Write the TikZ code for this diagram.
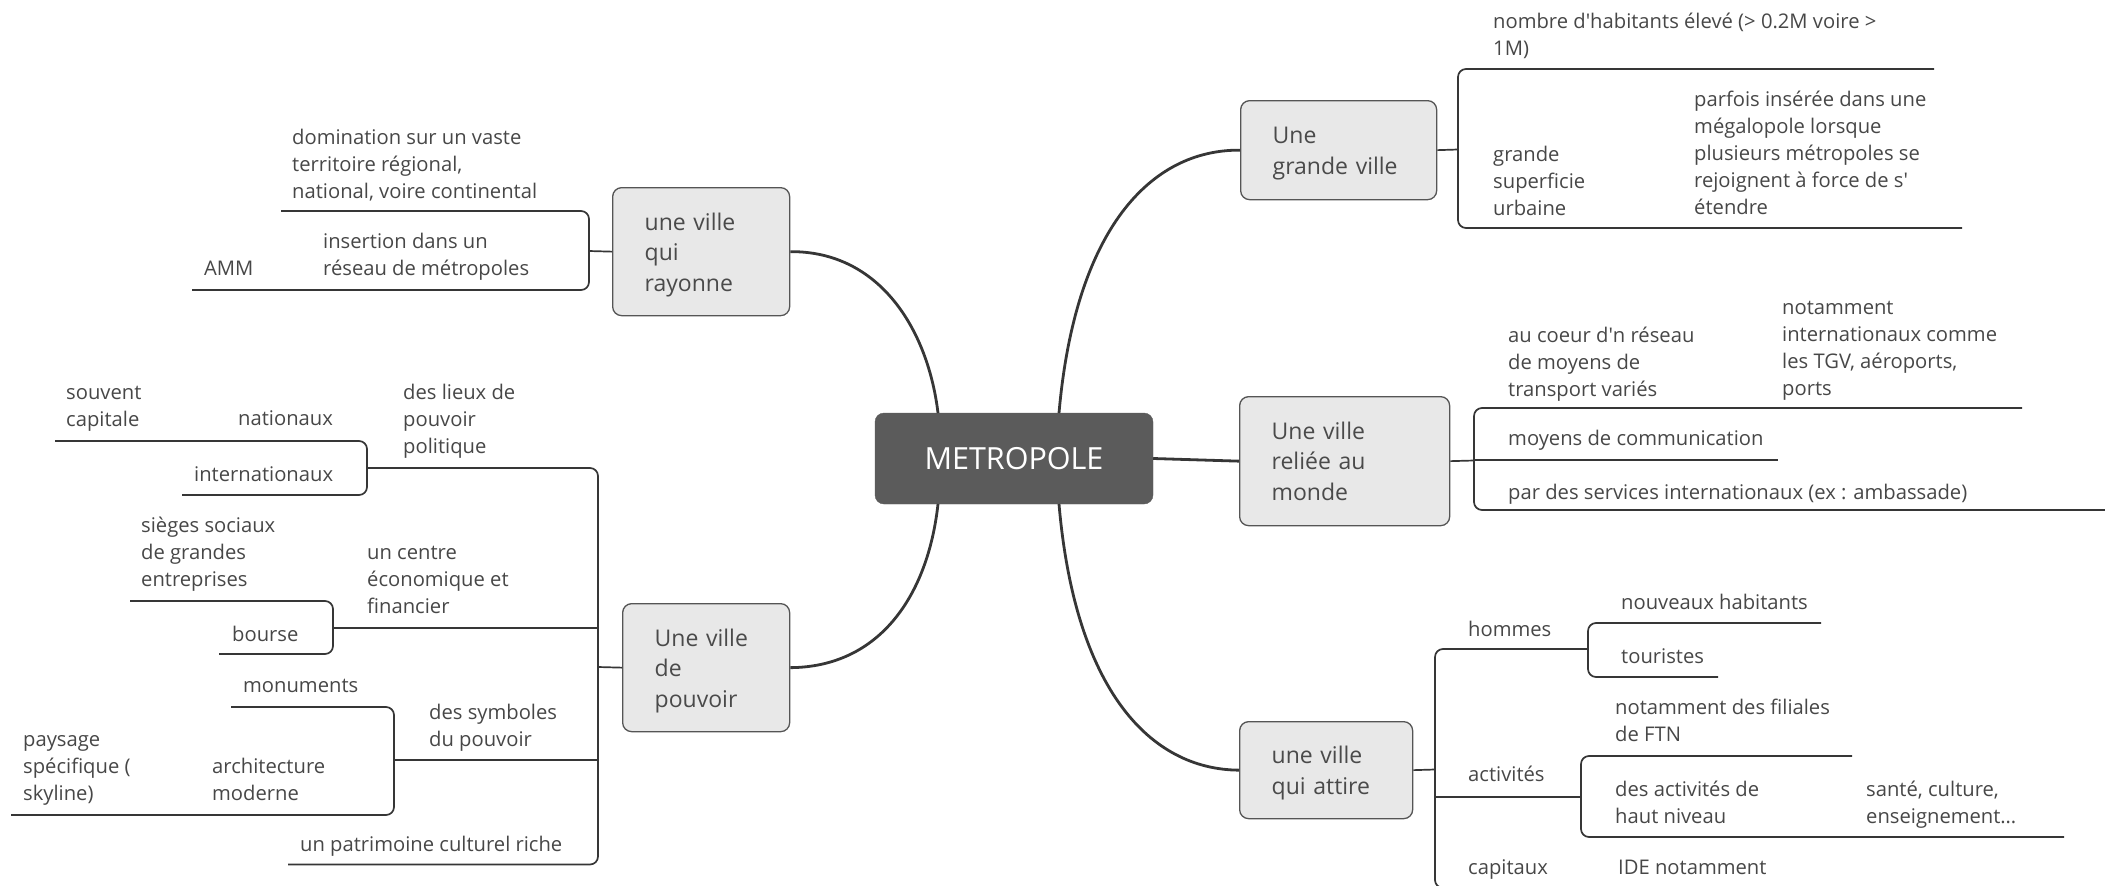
\documentclass[tikz,border=0pt]{standalone}
\usepackage{fontspec}
\setmainfont{Open Sans}
\definecolor{txt}{HTML}{474747}
\definecolor{txtb}{HTML}{4A4A4A}
\definecolor{lnc}{HTML}{363636}
\definecolor{boxf}{HTML}{E8E8E8}
\definecolor{boxd}{HTML}{555555}
\definecolor{metf}{HTML}{5B5B5B}
\newcommand{\ml}[1]{\begin{tabular}[t]{@{}l@{}}#1\end{tabular}}
\newcommand{\dn}{\rule{0pt}{23.5pt}}
\begin{document}
\begin{tikzpicture}[x=1pt,y=-1pt,
  leaf/.style={anchor=base west, inner sep=0pt, text=txt, font=\fontsize{20.2}{27}\selectfont, yshift=-1pt},
  topic/.style={draw=boxd, fill=boxf, line width=1.3pt, rounded corners=9pt, anchor=north west,
    inner xsep=32pt, inner ysep=0pt, align=left, text=txtb, font=\fontsize{23}{30.5}\selectfont},
  ln/.style={draw=lnc, line width=1.7pt, rounded corners=8pt},
  mainc/.style={draw=lnc, line width=2.8pt},
]
\useasboundingbox (0,0) rectangle (2105,886);

% central node
\node[draw=metf, fill=metf, rounded corners=9pt, minimum width=278pt, minimum height=91pt,
  text=white, font=\fontsize{30.5}{36}\selectfont, inner sep=0pt] (metro) at (1014,458.5) {METROPOLE};

% topic boxes
\node[topic, text width=113pt, minimum height=128pt] (ray) at (612,187) {\dn une ville\\qui\\rayonne};
\node[topic, text width=132pt, minimum height=99pt] (gv) at (1240,100) {\dn Une\\grande~ville};
\node[topic, text width=146pt, minimum height=129pt] (rel) at (1239,396) {Une ville\\reliée au\\monde};
\node[topic, text width=109pt, minimum height=97pt] (att) at (1239,721) {\dn une ville\\qui attire};
\node[topic, text width=103pt, minimum height=128pt] (pouv) at (622,603) {\dn Une ville\\de\\pouvoir};

% main connectors
\coordinate (mTL) at (938,413);
\coordinate (mTR) at (1059,413);
\coordinate (mBL) at (938,504);
\coordinate (mBR) at (1059,504);
\draw[mainc] (mTL) .. controls (928,330) and (880,251) .. (ray.east);
\draw[mainc] (mTR) .. controls (1075,230) and (1150,149.5) .. (gv.west);
\draw[mainc] (mBL) .. controls (928,595) and (880,667) .. (pouv.east);
\draw[mainc] (mBR) .. controls (1075,690) and (1150,769.5) .. (att.west);
\draw[mainc] (metro.east) -- (rel.west);

% ---------- une ville qui rayonne ----------
\coordinate (bRay) at (589,251);
\draw[ln] (281,211) -- (589,211) -- (589,290) -- (192,290);
\draw[ln] (ray.west) -- (bRay);
\node[leaf] (dom) at (292,143) {\ml{domination sur un vaste\\territoire régional,\\national, voire continental}};
\node[leaf] (ins) at (323,247) {\ml{insertion dans un\\réseau de métropoles}};
\node[leaf] (amm) at (204,274) {AMM};

% ---------- une ville de pouvoir ----------
\coordinate (bPouv) at (598,667);
\draw[ln] (367,468) -- (598,468) -- (598,864.5) -- (288,864.5);
\draw[ln] (pouv.west) -- (bPouv);
\draw[ln] (55,441) -- (367,441) -- (367,495) -- (182,495);
\draw[ln] (333,628) -- (598,628);
\draw[ln] (130,601) -- (333,601) -- (333,654) -- (219,654);
\draw[ln] (394,760) -- (598,760);
\draw[ln] (231,707) -- (394,707) -- (394,815) -- (11,815);
\node[leaf] (lieux) at (403,398) {\ml{des lieux de\\pouvoir\\politique}};
\node[leaf] (nat) at (238,424) {nationaux};
\node[leaf] (souv) at (66,398) {\ml{souvent\\capitale}};
\node[leaf] (inter) at (194,480) {internationaux};
\node[leaf] (centre) at (367,558) {\ml{un centre\\économique et\\financier}};
\node[leaf] (sieges) at (141,531) {\ml{sièges sociaux\\de grandes\\entreprises}};
\node[leaf] (bourse) at (232,640) {bourse};
\node[leaf] (symb) at (429,718) {\ml{des symboles\\du pouvoir}};
\node[leaf] (monu) at (243,691) {monuments};
\node[leaf] (archi) at (212,772) {\ml{architecture\\moderne}};
\node[leaf] (pays) at (23,745) {\ml{paysage\\spécifique (\\skyline)}};
\node[leaf] (patri) at (300,850) {un patrimoine culturel riche};

% ---------- une grande ville ----------
\coordinate (bGv) at (1458,149.5);
\draw[ln] (1934,69) -- (1458,69) -- (1458,228) -- (1962,228);
\draw[ln] (gv.east) -- (bGv);
\node[leaf] (nomb) at (1493,27) {\ml{nombre d\textquotesingle habitants élevé (> 0.2M voire >\\1M)}};
\node[leaf] (gsu) at (1493,160) {\ml{grande\\superficie\\urbaine}};
\node[leaf] (parf) at (1694,105) {\ml{parfois insérée dans une\\mégalopole lorsque\\plusieurs métropoles se\\rejoignent à force de s\textquotesingle\\étendre}};

% ---------- une ville reliee au monde ----------
\coordinate (bRel) at (1474,460.5);
\draw[ln] (2022,408) -- (1474,408) -- (1474,510) -- (2115,510);
\draw[ln] (1474,460) -- (1778,460);
\draw[ln] (rel.east) -- (bRel);
\node[leaf] (coeur) at (1508,341) {\ml{au coeur d\textquotesingle n réseau\\de moyens de\\transport variés}};
\node[leaf] (notam) at (1782,313) {\ml{notamment\\internationaux comme\\les TGV, aéroports,\\ports}};
\node[leaf] (comm) at (1508,444) {moyens de communication};
\node[leaf] (serv) at (1508,498) {par des services internationaux (ex : ambassade)};

% ---------- une ville qui attire ----------
\coordinate (bAtt) at (1435,769.5);
\draw[ln] (1588,649) -- (1435,649) -- (1435,888) -- (1800,888);
\draw[ln] (1435,797) -- (1581,797);
\draw[ln] (att.east) -- (bAtt);
\draw[ln] (1821,623) -- (1588,623) -- (1588,677) -- (1718,677);
\draw[ln] (1852,756) -- (1581,756) -- (1581,837) -- (2064,837);
\node[leaf] (hom) at (1468,635) {hommes};
\node[leaf] (nouv) at (1621,608) {nouveaux habitants};
\node[leaf] (tour) at (1621,662) {touristes};
\node[leaf] (act) at (1468,780) {activités};
\node[leaf] (fil) at (1615,713) {\ml{notamment des filiales\\de FTN}};
\node[leaf] (haut) at (1615,795) {\ml{des activités de\\haut niveau}};
\node[leaf] (sante) at (1866,795) {\ml{santé, culture,\\enseignement…}};
\node[leaf] (cap) at (1468,873) {capitaux};
\node[leaf] (ide) at (1618,873) {IDE notamment};
\end{tikzpicture}
\end{document}
